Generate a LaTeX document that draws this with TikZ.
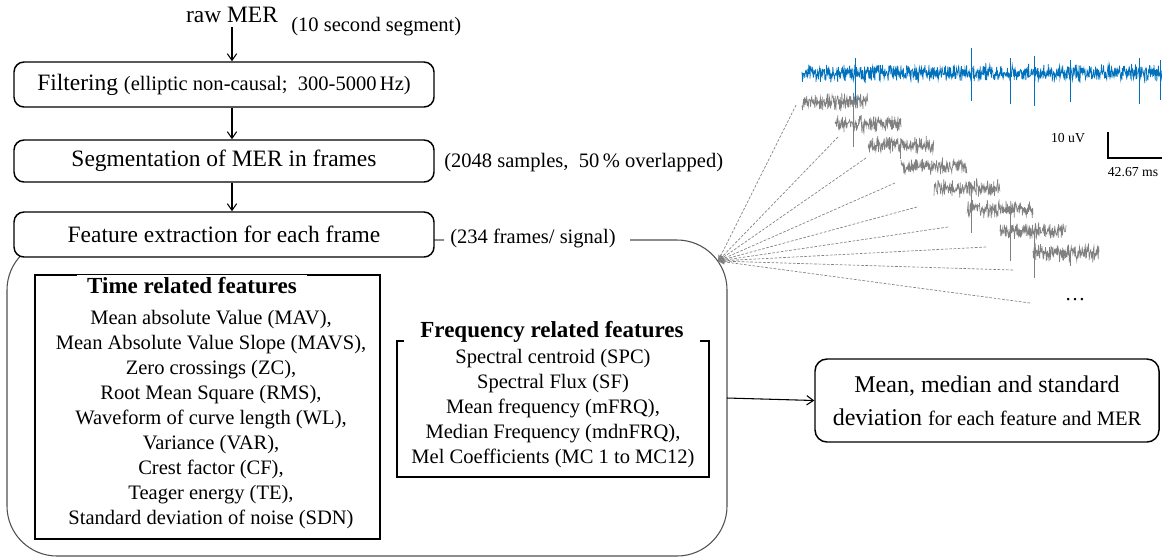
\documentclass[tikz,border=0pt]{standalone}
\usepackage{fontspec}
\setmainfont{LiberationSerif}[Extension=.ttf,UprightFont=*-Regular,BoldFont=*-Bold,ItalicFont=*-Italic,BoldItalicFont=*-BoldItalic]
\usetikzlibrary{arrows.meta}
\newcommand\mymain{\fontsize{17.6pt}{21pt}\selectfont}
\newcommand\mysmall{\fontsize{15.4pt}{18.75pt}\selectfont}
\newcommand\mytitle{\fontsize{17.25pt}{20pt}\selectfont\bfseries}
\newcommand\mytiny{\fontsize{10.3pt}{12pt}\selectfont}
\definecolor{sigblue}{RGB}{0,114,189}
\definecolor{siggray}{RGB}{128,128,128}
\definecolor{frameline}{RGB}{80,80,80}
\begin{document}
\begin{tikzpicture}[x=0.75pt,y=-0.75pt,
  stepbox/.style={draw,line width=1.1pt,rounded corners=7.5pt,minimum width=315pt,fill=white,inner sep=0pt,font=\mymain},
  arr/.style={line width=0.8pt,-{Straight Barb[length=5pt,width=7pt]}},
  dashline/.style={siggray,line width=0.5pt,dash pattern=on 2pt off 1.2pt,-{Stealth[length=5pt,width=4pt]}},
  featbox/.style={draw,line width=0.8pt,inner sep=0pt},
  ftitle/.style={fill=white,font=\mytitle,inner ysep=2pt},
  note/.style={anchor=west,inner sep=0pt,font=\mysmall}]
\useasboundingbox (0,0) rectangle (1162,558);
\fill[white] (0,0) rectangle (1162,558);

% big rounded container
\draw[frameline,line width=0.8pt,rounded corners=37.5pt] (630,240) -- (727,240) -- (727,556) -- (7,556) -- (7,240) -- (444,240);
\coordinate (bigE) at (727,398);

% top flow
\node[inner sep=3pt,font=\mymain] (raw) at (232,15) {raw MER};
\node[note] (seg10) at (291,27) {(10 second segment)};
\node[stepbox,minimum height=33.75pt] (filt) at (224,84.5) {Filtering {\mysmall (elliptic non-causal;~ 300-5000\,Hz)}};
\node[stepbox,minimum height=31.5pt] (segm) at (224,161) {Segmentation of MER in frames};
\node[stepbox,minimum height=33.75pt] (feat) at (224,234.5) {Feature extraction for each frame};
\node[note] (n2048) at (444,163) {(2048 samples,~ 50\,\% overlapped)};
\node[note] (n234) at (450,238) {(234 frames/ signal)};

\draw[arr] (raw.south) -- (raw.south |- filt.north);
\draw[arr] (filt.south -| raw) -- (segm.north -| raw);
\draw[arr] (segm.south -| raw) -- (feat.north -| raw);

% time features
\node[featbox,minimum width=258.75pt,minimum height=198pt] (timebox) at (207.5,407) {};
\node[ftitle,inner xsep=8pt] (timetitle) at (192,286) {Time related features};
\node[align=center,font=\mysmall,inner sep=0pt] (timetext) at (211,420) {Mean absolute Value (MAV),\\
Mean Absolute Value Slope (MAVS),\\
Zero crossings (ZC),\\
Root Mean Square (RMS),\\
Waveform of curve length (WL),\\
Variance (VAR),\\
Crest factor (CF),\\
Teager energy (TE),\\
Standard deviation of noise (SDN)};

% frequency features
\node[featbox,minimum width=234pt,minimum height=102pt,align=center,font=\mysmall] (freqbox) at (553,409) {Spectral centroid (SPC)\\
Spectral Flux (SF)\\
Mean frequency (mFRQ),\\
Median Frequency (mdnFRQ),\\
Mel Coefficients (MC 1 to MC12)};
\node[ftitle,inner xsep=12pt] (freqtitle) at (552,332) {Frequency related features};

% statistics box
\node[draw,line width=1.1pt,rounded corners=9pt,minimum width=258pt,minimum height=62.25pt,align=center,
  font=\fontsize{18pt}{24.75pt}\selectfont] (stats) at (987,400.5)
  {Mean, median and standard\\deviation {\mysmall for each feature and MER}};
\draw[arr] (bigE) -- (stats.west);

% signals
\pgfmathsetseed{7}
\draw[sigblue,line width=0.55pt] plot[domain=802:1162,samples=900] (\x,{73+5.5*rand+5*rand});
\foreach \sx/\st/\sb in {855/58/107,971/48/101,1010/58/104,1034/56/106,1070/60/102,1139/58/104,1160/60/100}
  \draw[sigblue,line width=0.6pt] (\sx,\st) -- (\sx,\sb);
\foreach \i in {0,...,7}{
  \pgfmathsetmacro\xa{802+33*\i}
  \pgfmathsetmacro\xb{\xa+66}
  \pgfmathsetmacro\yc{102+21.5*\i}
  \draw[siggray,line width=0.5pt] plot[domain=\xa:\xb,samples=170] (\x,{\yc+5*rand+5*rand});
}
\foreach \sx/\sy/\sl in {853/102/36,853/123/24,900/145/14,971/188/30,971/209/24,1010/209/32,1010/231/30,1034/231/30,1034/252/26,1070/252/14}
  \draw[siggray,line width=0.6pt] (\sx,\sy) -- (\sx,{\sy+\sl});

% dashed connectors
\coordinate (conv) at (718,261);
\coordinate (e1) at (796,105);
\coordinate (e2) at (838,137);
\coordinate (e3) at (866,158);
\coordinate (e4) at (895,183);
\coordinate (e5) at (917,207);
\coordinate (e6) at (948,227);
\coordinate (e7) at (986,247);
\coordinate (e8) at (1013,270);
\coordinate (e9) at (1030,303);
\foreach \e in {e1,e2,e3,e4,e5,e6,e7,e8,e9}
  \draw[dashline] (\e) -- (conv);
\node[font=\mysmall,inner sep=0pt] (dots) at (1075,300) {\ldots};

% scale bar
\node[font=\mytiny,inner sep=0pt] (uv) at (1068,138) {10 uV};
\node[font=\mytiny,inner sep=0pt] (ms) at (1133,172) {42.67 ms};
\coordinate (sbT) at (1108,132);
\coordinate (sbC) at (1108,158);
\coordinate (sbR) at (1162,158);
\draw[line width=0.9pt] (sbT) -- (sbC) -- (sbR);
\end{tikzpicture}
\end{document}
